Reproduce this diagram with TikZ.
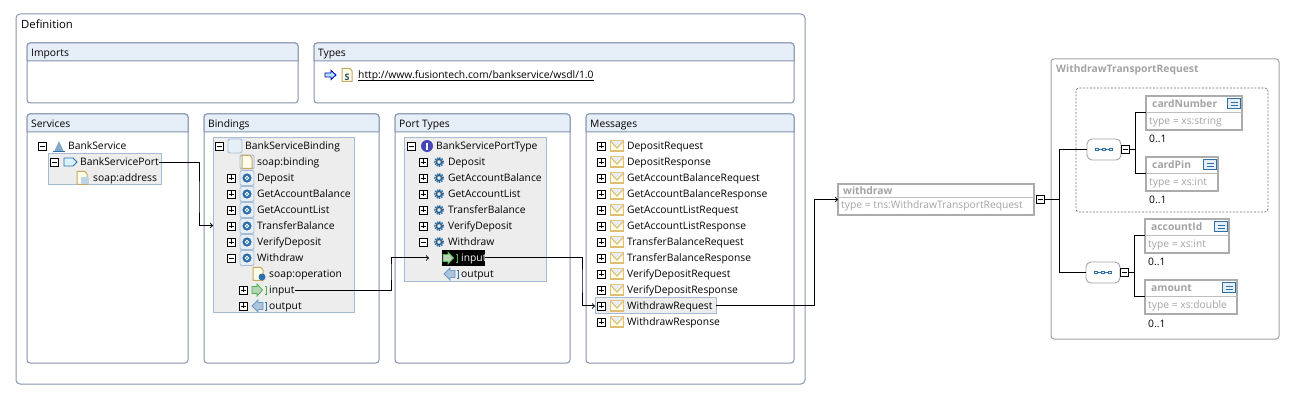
\documentclass[tikz,border=0pt]{standalone}
\usepackage{fontspec}
\setmainfont{Open Sans}
\usepackage{tikz}
\usetikzlibrary{calc}

\definecolor{panelline}{HTML}{8593AE}
\definecolor{headfill}{HTML}{E6EFF7}
\definecolor{treefill}{HTML}{EDEDED}
\definecolor{treeline}{HTML}{A6BAD4}
\definecolor{ghost}{HTML}{A3A3A3}
\definecolor{gearblue}{HTML}{2F6FA8}
\definecolor{mailline}{HTML}{E2BD73}
\definecolor{soapline}{HTML}{C9A75E}

\tikzset{
  rowtext/.style={anchor=west, inner sep=0pt, yshift=-1pt, font=\fontsize{10.3}{12}\selectfont, text height=8pt, text depth=2pt},
  panelstroke/.style={draw=panelline, line width=1pt},
  treebox/.style={draw=treeline, fill=treefill, line width=1pt, anchor=north west, inner sep=0pt, outer sep=0pt},
  expbox/.style={draw=black, fill=white, line width=0.8pt, minimum size=8pt, inner sep=0pt, outer sep=0pt},
  minusbox/.style={expbox, path picture={\draw[line width=0.8pt] ([xshift=1.5pt]path picture bounding box.west) -- ([xshift=-1.5pt]path picture bounding box.east);}},
  plusbox/.style={expbox, path picture={\draw[line width=0.8pt] ([xshift=1.5pt]path picture bounding box.west) -- ([xshift=-1.5pt]path picture bounding box.east);
    \draw[line width=0.8pt] ([yshift=1.5pt]path picture bounding box.south) -- ([yshift=-1.5pt]path picture bounding box.north);}},
  wire/.style={draw=black, line width=1pt},
  elembox/.style={draw=ghost!90, line width=2.8pt, anchor=north west, inner sep=0pt, outer sep=0pt},
  seqpill/.style={draw=ghost, fill=white, line width=0.9pt, rounded corners=5pt, minimum width=34pt, minimum height=21pt, inner sep=0pt, outer sep=0pt},
}

% panel: name, x1, y1, x2, y2, title
\newcommand\panel[6]{
  \draw[panelstroke, fill=white, rounded corners=3pt] (#2,#3) rectangle (#4,#5);
  \draw[panelstroke, fill=headfill] (#2,#3+18) [rounded corners=3pt] -- (#2,#3) -- (#4,#3) [sharp corners] -- (#4,#3+18) -- cycle;
  \node[rowtext] (#1) at (#2+4,#3+9.5) {#6};
}
\newcommand\gearicon[1]{
  \begin{scope}[shift={(#1)}]
    \draw[gearblue, line width=1.6pt, dash pattern=on 1.4pt off 1pt] (0,0) circle (4.2pt);
    \draw[gearblue!80!black, line width=1.3pt] (0,0) circle (2.6pt);
  \end{scope}
}
\newcommand\boundgear[1]{
  \begin{scope}[shift={(#1)}]
    \draw[treeline, fill=headfill, line width=0.9pt, rounded corners=2pt] (-7,-7.5) rectangle (7,7.5);
    \fill[gearblue] (0,0) circle (4.6pt);
    \draw[white, line width=0.8pt] (0,0) circle (1.8pt);
  \end{scope}
}
\newcommand\mailicon[1]{
  \begin{scope}[shift={(#1)}]
    \draw[mailline, fill=yellow!8, line width=1.1pt] (-6.5,-5) rectangle (6.5,5);
    \draw[mailline, fill=headfill, line width=1.1pt] (-6.5,-5) -- (0,2) -- (6.5,-5);
  \end{scope}
}
\newcommand\inicon[1]{
  \begin{scope}[shift={(#1)}]
    \draw[green!40!gray, fill=green!25!gray!45, line width=0.8pt] (-7,-3.5) -- (-2,-3.5) -- (-2,-6) -- (3.5,0) -- (-2,6) -- (-2,3.5) -- (-7,3.5) -- cycle;
    \draw[green!40!gray, line width=0.9pt] (5.5,-4) -- (7,-4) -- (7,4) -- (5.5,4);
  \end{scope}
}
\newcommand\outicon[1]{
  \begin{scope}[shift={(#1)}]
    \draw[gearblue!70, fill=gearblue!40, line width=0.8pt] (5,-3.5) -- (0,-3.5) -- (0,-6) -- (-6,0) -- (0,6) -- (0,3.5) -- (5,3.5) -- cycle;
    \draw[gearblue, line width=0.9pt] (6.5,-4) -- (8,-4) -- (8,4) -- (6.5,4);
  \end{scope}
}
\newcommand\soapicon[1]{
  \begin{scope}[shift={(#1)}]
    \draw[soapline, fill=yellow!8, line width=1pt] (-5,-6.5) -- (3,-6.5) -- (5,-4) -- (5,6.5) -- (-5,6.5) -- cycle;
  \end{scope}
}
\newcommand\docicon[1]{
  \begin{scope}[shift={(#1)}]
    \draw[gearblue, fill=headfill, line width=1pt] (-6.5,-5) rectangle (6.5,5);
    \draw[gearblue, line width=0.9pt] (-3.5,-1.3) -- (3.5,-1.3) (-3.5,1.5) -- (3.5,1.5);
  \end{scope}
}
% element: name, x, y, width, label, type, x of doc icon
\newcommand\element[7]{
  \node[elembox, minimum width=#4pt, minimum height=34pt] (#1) at (#2,#3) {};
  \draw[ghost!70, line width=0.7pt] (#2,#3+16) -- (#2+#4,#3+16);
  \node[rowtext, ghost, font=\fontsize{10.3}{12}\selectfont\bfseries] (#1name) at (#2+6,#3+8) {#5};
  \node[rowtext, ghost] (#1type) at (#2+3,#3+24.5) {#6};
  \docicon{#7,#3+7.5}
  \node[rowtext] (#1occ) at (#2+3,#3+43) {0..1};
}
\newcommand\seqdots[1]{
  \foreach \d in {-7,0,7} {
    \draw[gearblue, fill=white, line width=0.8pt] ($(#1)+(\d-1.3,-1.3)$) rectangle ($(#1)+(\d+1.3,1.3)$);
  }
  \draw[gearblue, line width=0.8pt] ($(#1)+(-5.7,0)$) -- ($(#1)+(-1.3,0)$) ($(#1)+(1.3,0)$) -- ($(#1)+(5.7,0)$);
}

\begin{document}
\begin{tikzpicture}[x=1pt, y=-1pt]
  \useasboundingbox (0,0) rectangle (1300,411);

  % definition frame
  \draw[panelstroke, rounded corners=4pt] (16,14) rectangle (805,384);
  \node[rowtext, font=\fontsize{11.3}{13}\selectfont] (deftitle) at (21,25) {Definition};

  \panel{imports}{27}{43}{298}{103}{Imports}
  \panel{types}{314}{43}{794}{103}{Types}
  \panel{services}{27}{114}{188}{363}{Services}
  \panel{bindings}{204}{114}{379}{363}{Bindings}
  \panel{porttypes}{395}{114}{570}{363}{Port Types}
  \panel{messages}{586}{114}{794}{363}{Messages}

  % types row
  \draw[blue!70!black, fill=cyan!30, line width=0.9pt] (325,73) -- (331,73) -- (331,70.5) -- (336,75) -- (331,79.5) -- (331,77) -- (325,77) -- cycle;
  \soapicon{347,75}
  \node[rowtext, gearblue!70!black, font=\fontsize{9}{10}\selectfont\bfseries, anchor=center, text height=6.5pt, text depth=0pt] (schemas) at (347,76.5) {S};
  \node[rowtext] (typelink) at (358,75) {http://www.fusiontech.com/bankservice/wsdl/1.0};
  \draw[line width=0.8pt] ([yshift=0.6pt]typelink.south west) -- ([yshift=0.6pt]typelink.south east);

  % services
  \node[treebox, minimum width=113pt, minimum height=31pt] (svcport) at (48,154) {};
  \node[minusbox] (svcexp) at (42,146) {};
  \fill[gearblue!60] (54,152) -- (59,141) -- (64,152) -- cycle;
  \draw[gearblue, line width=1pt] (53,152) -- (65,152);
  \node[rowtext] (bankservice) at (68,146) {BankService};
  \node[minusbox] (bsportexp) at (54,162) {};
  \draw[gearblue, fill=cyan!15, line width=0.9pt] (64,158) -- (73,158) -- (77,162) -- (73,166) -- (64,166) -- cycle;
  \node[rowtext] (bsport) at (80,162) {BankServicePort};
  \soapicon{82,178}
  \fill[gearblue!30] (81,177) rectangle (89,184);
  \node[rowtext] (soapaddr) at (93,178) {soap:address};

  % bindings
  \node[treebox, minimum width=141pt, minimum height=175pt] (bindbox) at (213,138) {};
  \node[minusbox] (bindexp) at (219,146) {};
  \draw[treeline, fill=headfill, line width=0.9pt, rounded corners=2pt] (228,139) rectangle (242,153);
  \node[rowtext] (bindname) at (245,146) {BankServiceBinding};
  \draw[treeline, fill=headfill, line width=0.9pt, rounded corners=2pt] (240,155) rectangle (254,169);
  \soapicon{247,162}
  \node[rowtext] (soapbinding) at (257,162) {soap:binding};
  \foreach \op [count=\i] in {Deposit,GetAccountBalance,GetAccountList,TransferBalance,VerifyDeposit} {
    \node[plusbox] (bindexp\i) at (231,162+16*\i) {};
    \boundgear{247,162+16*\i}
    \node[rowtext] (bindop\i) at (257,162+16*\i) {\op};
  }
  \node[minusbox] (bindexp6) at (231,258) {};
  \boundgear{247,258}
  \node[rowtext] (bindop6) at (257,258) {Withdraw};
  \soapicon{258,274}
  \fill[gearblue] (262,277) circle (3.5pt);
  \node[rowtext] (soapop) at (269,274) {soap:operation};
  \node[plusbox] (bindinexp) at (243,290) {};
  \inicon{259,290}
  \node[rowtext] (bindin) at (269,290) {input};
  \node[plusbox] (bindoutexp) at (243,306) {};
  \outicon{258,306}
  \node[rowtext] (bindout) at (269,306) {output};

  % port types
  \node[treebox, minimum width=142pt, minimum height=144pt] (portbox) at (404,138) {};
  \node[minusbox] (portexp) at (411,146) {};
  \fill[blue!45!gray] (427,146) circle (6pt);
  \draw[white, line width=1.4pt] (427,143) -- (427,150);
  \node[rowtext] (portname) at (436,146) {BankServicePortType};
  \foreach \op [count=\i] in {Deposit,GetAccountBalance,GetAccountList,TransferBalance,VerifyDeposit} {
    \node[plusbox] (portexp\i) at (423,146+16*\i) {};
    \gearicon{439,146+16*\i}
    \node[rowtext] (portop\i) at (448,146+16*\i) {\op};
  }
  \node[minusbox] (portexp6) at (423,242) {};
  \gearicon{439,242}
  \node[rowtext] (portop6) at (448,242) {Withdraw};
  \node[fill=black, inner sep=0pt, outer sep=0pt, minimum width=43pt, minimum height=16pt] (porthigh) at (463.5,258) {};
  \inicon{450,258}
  \node[rowtext, white] (portin) at (461,258) {input};
  \outicon{450,274}
  \node[rowtext] (portout) at (461,274) {output};

  % messages
  \node[draw=treeline, fill=treefill, line width=1pt, inner sep=0pt, outer sep=0pt, minimum width=121pt, minimum height=16pt] (msgsel) at (655.5,306) {};
  \foreach \msg [count=\i] in {DepositRequest,DepositResponse,GetAccountBalanceRequest,GetAccountBalanceResponse,GetAccountListRequest,GetAccountListResponse,TransferBalanceRequest,TransferBalanceResponse,VerifyDepositRequest,VerifyDepositResponse,WithdrawRequest,WithdrawResponse} {
    \node[plusbox] (msgexp\i) at (601,130+16*\i) {};
    \mailicon{617,130+16*\i}
    \node[rowtext] (msg\i) at (627,130+16*\i) {\msg};
  }

  % schema side
  \draw[ghost, line width=1pt, rounded corners=3pt] (1051,59) rectangle (1279,339);
  \node[rowtext, ghost, font=\fontsize{10.3}{12}\selectfont\bfseries] (schematitle) at (1056,69) {WithdrawTransportRequest};
  \draw[ghost!70!black, dash pattern=on 2pt off 1.5pt, rounded corners=3pt, line width=0.8pt] (1076,88) rectangle (1268,212);

  \node[elembox, minimum width=196pt, minimum height=31pt] (withdraw) at (838,184) {};
  \draw[ghost!70, line width=0.7pt] (838,197) -- (1034,197);
  \node[rowtext, ghost, font=\fontsize{10.3}{12}\selectfont\bfseries] (withdrawname) at (843,191) {withdraw};
  \node[rowtext, ghost] (withdrawtype) at (841,205) {type = tns:WithdrawTransportRequest};
  \node[minusbox] (withdrawexp) at (1040,199.5) {};

  \node[seqpill] (seqA) at (1104,149.5) {};
  \seqdots{seqA}
  \node[minusbox] (seqAexp) at (1125,149.5) {};
  \node[seqpill] (seqB) at (1103,272.5) {};
  \seqdots{seqB}
  \node[minusbox] (seqBexp) at (1124,272.5) {};

  \element{cardnumber}{1146}{96}{96}{cardNumber}{type = xs:string}{1234}
  \element{cardpin}{1146}{157}{72}{cardPin}{type = xs:int}{1210}
  \element{accountid}{1145}{219}{84}{accountId}{type = xs:int}{1221}
  \element{amount}{1145}{280}{92}{amount}{type = xs:double}{1229}

  \coordinate (trunk) at (1059,199.5);
  \coordinate (branchA) at (1135,149.5);
  \coordinate (branchB) at (1134,272.5);
  \coordinate (bendA) at (199,200);
  \coordinate (bendB) at (391,270);
  \coordinate (bendC) at (582,280);
  \coordinate (bendD) at (814,250);

  % connectors
  \draw[wire,->] (bsport.east) -| (bendA) |- (bindbox.west);
  \draw[wire,->,shorten >=13pt] (bindin.east) -| (bendB) |- (porthigh.west);
  \draw[wire,->] (porthigh.east) -| (bendC) |- (msgsel.west);
  \draw[wire,->] (msgsel.east) -| (bendD) |- (withdraw.west);
  \draw[wire] (withdrawexp.east) -- (trunk);
  \draw[wire] (seqA.west) -| (trunk) |- (seqB.west);
  \draw[wire] (seqAexp.east) -- (branchA);
  \draw[wire] (cardnumber.west) -| (branchA) |- (cardpin.west);
  \draw[wire] (seqBexp.east) -- (branchB);
  \draw[wire] (accountid.west) -| (branchB) |- (amount.west);

\end{tikzpicture}
\end{document}
